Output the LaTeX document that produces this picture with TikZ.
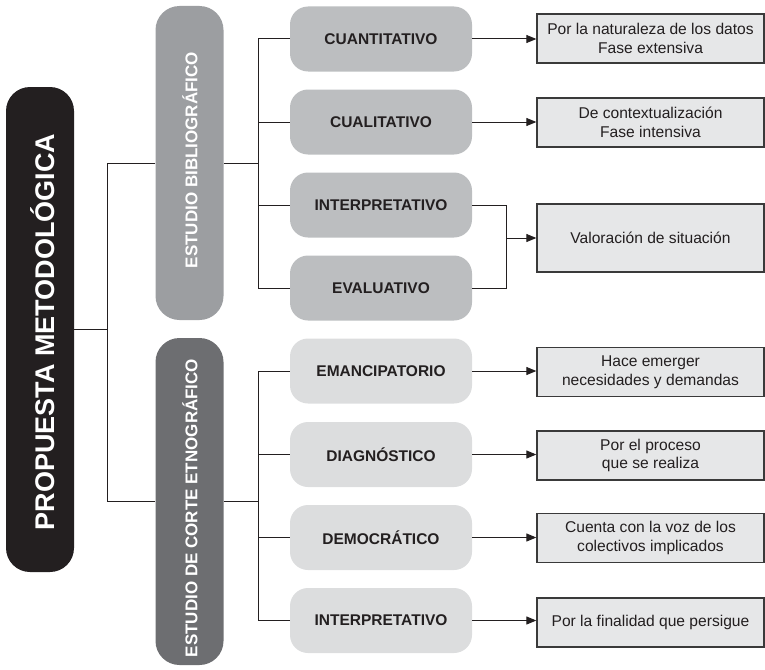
\documentclass[tikz,border=0pt]{standalone}
\usepackage{fontspec}
\setmainfont{Liberation Sans}
\usetikzlibrary{arrows.meta}
\definecolor{cblack}{HTML}{231F20}
\definecolor{cbib}{HTML}{9C9EA1}
\definecolor{cetn}{HTML}{6D6E71}
\definecolor{cup}{HTML}{BCBEC0}
\definecolor{clow}{HTML}{DCDDDE}
\definecolor{cres}{HTML}{E6E7E8}
\definecolor{cedge}{HTML}{3A3A3A}
\tikzset{
  bigbox/.style={rounded corners=24pt, minimum width=68pt, inner sep=0pt},
  midbox/.style={rounded corners=18pt, minimum width=182pt, minimum height=65pt, inner sep=0pt,
    font=\fontsize{15.5}{18}\selectfont\bfseries, text=cblack},
  upbox/.style={midbox, fill=cup},
  lowbox/.style={midbox, fill=clow},
  resbox/.style={draw=cedge, line width=1.3pt, fill=cres, minimum width=227pt, minimum height=49pt,
    inner sep=0pt, align=center, font=\fontsize{15.6}{18.5}\selectfont, text=cblack},
  vtext/.style={rotate=90, text=white, font=\bfseries, inner sep=0pt},
  conn/.style={draw=cblack, line width=1pt},
  arr/.style={conn, -{Triangle[length=10pt,width=8pt]}}
}
\begin{document}
\begin{tikzpicture}[x=1pt,y=-1pt]
\useasboundingbox (0,0) rectangle (765,669);
% left column
\node[bigbox, fill=cblack, minimum height=485pt] (main) at (40,329.5) {};
\node[vtext, font=\fontsize{27}{30}\selectfont\bfseries] (mainT) at (42.5,332) {PROPUESTA METODOLÓGICA};
% second column
\node[bigbox, fill=cbib, minimum height=314pt] (bib) at (189.5,163) {};
\node[vtext, font=\fontsize{17}{20}\selectfont\bfseries] (bibT) at (190,160) {ESTUDIO BIBLIOGRÁFICO};
\node[bigbox, fill=cetn, minimum height=327pt] (etn) at (189.5,501.5) {};
\node[vtext, font=\fontsize{17}{20}\selectfont\bfseries] (etnT) at (190,508) {ESTUDIO DE CORTE ETNOGRÁFICO};
% third column
\node[upbox] (c1) at (381,39) {CUANTITATIVO};
\node[upbox] (c2) at (381,122) {CUALITATIVO};
\node[upbox] (c3) at (381,205) {INTERPRETATIVO};
\node[upbox] (c4) at (381,288) {EVALUATIVO};
\node[lowbox] (c5) at (381,371) {EMANCIPATORIO};
\node[lowbox] (c6) at (381,454.5) {DIAGNÓSTICO};
\node[lowbox] (c7) at (381,537.5) {DEMOCRÁTICO};
\node[lowbox] (c8) at (381,620.5) {INTERPRETATIVO};
% right column
\node[resbox] (r1) at (650.5,38.5) {Por la naturaleza de los datos\\Fase extensiva};
\node[resbox] (r2) at (650.5,122.5) {De contextualización\\Fase intensiva};
\node[resbox, minimum height=68pt] (r3) at (650.5,238) {Valoración de situación};
\node[resbox] (r5) at (650.5,372) {Hace emerger\\necesidades y demandas};
\node[resbox] (r6) at (650.5,455.5) {Por el proceso\\que se realiza};
\node[resbox] (r7) at (650.5,538) {Cuenta con la voz de los\\colectivos implicados};
\node[resbox] (r8) at (650.5,622.5) {Por la finalidad que persigue};
% junction coordinates
\coordinate (b1) at (107,0);
\coordinate (b2) at (258,0);
\coordinate (b3) at (506,0);
% connectors level 1
\draw[conn] (main.east) -- (main.east -| b1);
\draw[conn] (bib.west) -- (bib.west -| b1) -- (etn.west -| b1) -- (etn.west);
% level 2 upper
\draw[conn] (bib.east) -- (bib.east -| b2);
\draw[conn] (c1.west) -- (c1.west -| b2) -- (c4.west -| b2) -- (c4.west);
\draw[conn] (c2.west -| b2) -- (c2.west);
\draw[conn] (c3.west -| b2) -- (c3.west);
% level 2 lower
\draw[conn] (etn.east) -- (etn.east -| b2);
\draw[conn] (c5.west) -- (c5.west -| b2) -- (c8.west -| b2) -- (c8.west);
\draw[conn] (c6.west -| b2) -- (c6.west);
\draw[conn] (c7.west -| b2) -- (c7.west);
% arrows
\draw[arr] (c1.east) -- (c1.east -| r1.west);
\draw[arr] (c2.east) -- (c2.east -| r2.west);
\draw[conn] (c3.east) -- (c3.east -| b3) -- (c4.east -| b3) -- (c4.east);
\draw[arr] (r3.west -| b3) -- (r3.west);
\draw[arr] (c5.east) -- (c5.east -| r5.west);
\draw[arr] (c6.east) -- (c6.east -| r6.west);
\draw[arr] (c7.east) -- (c7.east -| r7.west);
\draw[arr] (c8.east) -- (c8.east -| r8.west);
\end{tikzpicture}
\end{document}
